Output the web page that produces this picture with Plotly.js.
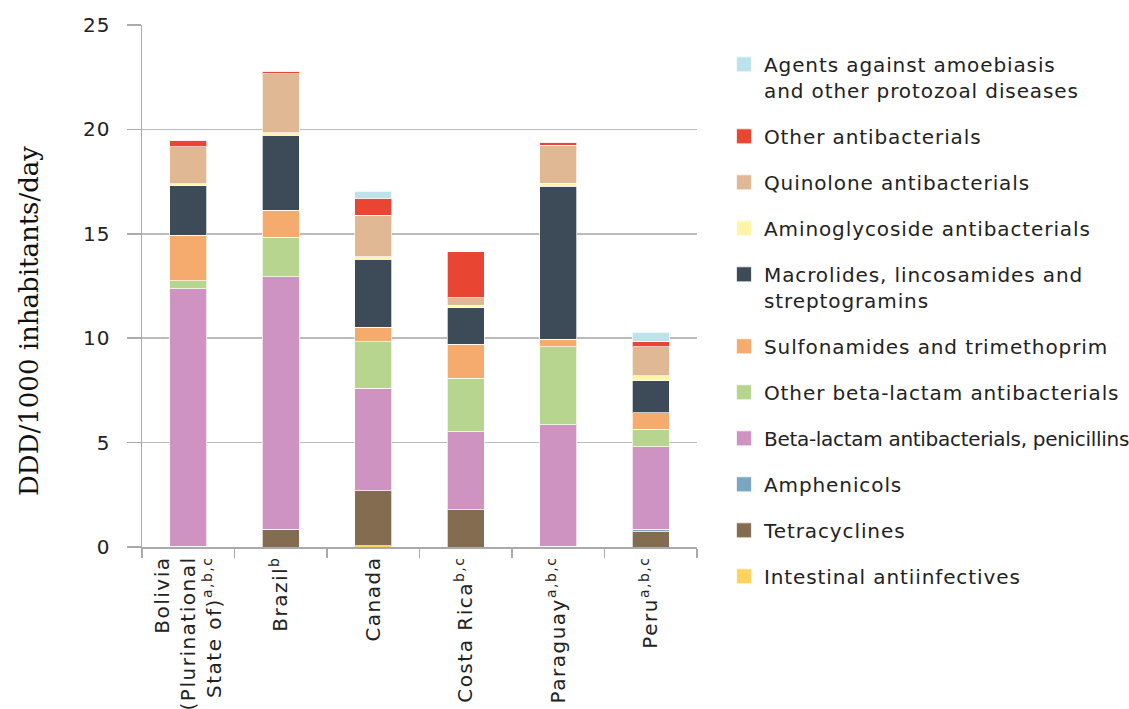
<!DOCTYPE html>
<html>
<head>
<meta charset="utf-8">
<script src="https://cdn.plot.ly/plotly-3.0.1.min.js"></script>
<style>
html,body{margin:0;padding:0;background:#fff;}
#chart{width:1129px;height:709px;}
#chart .legendtext{letter-spacing:0.9px;}
#chart .xtick text{letter-spacing:1.5px;}
#chart .ytick text{letter-spacing:1px;}
#chart .ytitle{translate:0px 35px;}
</style>
</head>
<body>
<div id="chart"></div>
<script>
// Categories
const countries = [
  'Bolivia<br>(Plurinational<br>State of)<sup>a,b,c</sup>',
  'Brazil<sup>b</sup>',
  'Canada',
  'Costa Rica<sup>b,c</sup>',
  'Paraguay<sup>a,b,c</sup>',
  'Peru<sup>a,b,c</sup>'
];

// Series values (DDD/1000 inhabitants/day), stacked bottom to top
const intestinal      = [0,     0,     0.07, 0,    0,    0];
const tetracyclines   = [0.03,  0.85,  2.63, 1.79, 0.03, 0.73];
const amphenicols     = [0,     0,     0,    0,    0,    0.13];
const penicillins     = [12.33, 12.1,  4.9,  3.73, 5.83, 3.94];
const otherBetaLactam = [0.38,  1.88,  2.23, 2.56, 3.72, 0.84];
const sulfonamides    = [2.2,   1.3,   0.69, 1.63, 0.37, 0.79];
const macrolides      = [2.35,  3.6,   3.26, 1.75, 7.32, 1.53];
const aminoglycosides = [0.11,  0.11,  0.12, 0.11, 0.15, 0.23];
const quinolones      = [1.76,  2.83,  1.99, 0.37, 1.83, 1.4];
const otherAntibact   = [0.33,  0.11,  0.81, 2.2,  0.13, 0.23];
const amoebiasis      = [0,     0,     0.35, 0,    0,    0.46];

// Series names
const seriesNames = [
  'Intestinal antiinfectives',
  'Tetracyclines',
  'Amphenicols',
  'Beta-lactam antibacterials, penicillins',
  'Other beta-lactam antibacterials',
  'Sulfonamides and trimethoprim',
  'Macrolides, lincosamides and<br>streptogramins',
  'Aminoglycoside antibacterials',
  'Quinolone antibacterials',
  'Other antibacterials',
  'Agents against amoebiasis<br>and other protozoal diseases'
];
const seriesValues = [intestinal, tetracyclines, amphenicols, penicillins, otherBetaLactam,
  sulfonamides, macrolides, aminoglycosides, quinolones, otherAntibact, amoebiasis];
const seriesColors = ['#fdd35e', '#836c50', '#7aa6c2', '#cf93c2', '#b8d58f',
  '#f5aa6e', '#3d4a57', '#fff5a8', '#e0b894', '#e84532', '#bde3ea'];

const traces = seriesNames.map((name, i) => ({
  type: 'bar',
  name: name,
  x: countries,
  y: seriesValues[i],
  legendgroup: 'g' + i,
  legendrank: 1000 - i,
  marker: {color: seriesColors[i], line: {color: 'rgba(255,255,255,0.7)', width: 1}},
  hoverinfo: 'x+y+name'
}));

const font = 'DejaVu Sans, sans-serif';
const layout = {
  width: 1129, height: 709,
  margin: {l: 142, r: 432, t: 25, b: 162, autoexpand: false},
  paper_bgcolor: '#fff', plot_bgcolor: '#fff',
  barmode: 'stack',
  bargap: 0.6,
  showlegend: true,
  legend: {
    x: 1.0486, y: 0.962, xanchor: 'left', yanchor: 'top',
    traceorder: 'grouped',
    tracegroupgap: 17,
    valign: 'top',
    maxheight: 1000,
    font: {family: font, size: 20, color: '#222'},
    itemwidth: 30
  },
  xaxis: {
    type: 'category',
    tickangle: -90,
    tickson: 'boundaries',
    ticks: 'outside', ticklen: 9, tickcolor: '#aaa', tickwidth: 1.5,
    showline: true, linecolor: '#aaa', linewidth: 1.5,
    showgrid: false,
    tickfont: {family: font, size: 20, color: '#222'}
  },
  yaxis: {
    range: [0, 25],
    dtick: 5,
    ticks: 'outside', ticklen: 14, tickcolor: '#aaa', tickwidth: 1.5,
    ticklabelstandoff: 12,
    showline: true, linecolor: '#aaa', linewidth: 1.5,
    showgrid: true, gridcolor: '#bbb', gridwidth: 1.5,
    zeroline: false,
    tickfont: {family: font, size: 20, color: '#222'},
    title: {
      text: 'DDD/1000 inhabitants/day',
      font: {family: 'DejaVu Serif, serif', size: 26, color: '#111'},
      standoff: 39
    }
  }
};

Plotly.newPlot('chart', traces, layout, {displayModeBar: false, staticPlot: true}).then(function () {
  // larger square legend swatches, like the reference
  document.querySelectorAll('#chart .legendpoints path').forEach(function (p) {
    p.setAttribute('d', 'M7.5,7.5H-7.5V-7.5H7.5Z');
  });
  // the longest legend label is set slightly tighter so it fits the page
  document.querySelectorAll('#chart .legendtext').forEach(function (t) {
    if (t.textContent.indexOf('penicillins') >= 0) t.style.letterSpacing = '-0.3px';
  });
});
</script>
</body>
</html>
